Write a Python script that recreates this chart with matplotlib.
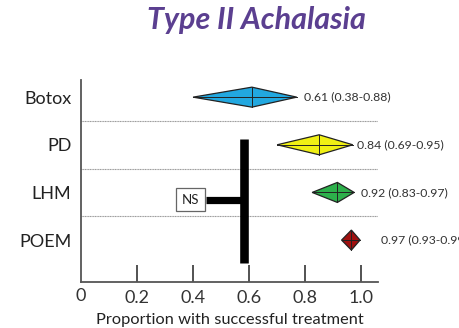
import matplotlib
matplotlib.use("Agg")
import matplotlib.pyplot as plt
from matplotlib.patches import Polygon

plt.rcParams['font.family'] = ['Lato', 'DejaVu Sans']

# ---- data ----
treatments = ["Botox", "PD", "LHM", "POEM"]
estimate = [0.61, 0.85, 0.915, 0.965]
diamond_left = [0.40, 0.70, 0.825, 0.93]
diamond_right = [0.77, 0.97, 0.975, 0.996]
labels = ["0.61 (0.38-0.88)", "0.84 (0.69-0.95)", "0.92 (0.83-0.97)", "0.97 (0.93-0.99)"]
colors = ["#22A8E0", "#F0F014", "#2DB04B", "#A0100F"]
xticks = [0.2, 0.4, 0.6, 0.8, 1.0]
xticklabels = ["0.2", "0.4", "0.6", "0.8", "1.0"]
ns_bar_x = 0.58
ns_label = "NS"

fig = plt.figure(figsize=(4.6, 3.28), dpi=100)
W, H = 460, 328
ax = fig.add_axes([81 / W, 1 - 282 / H, (378 - 81) / W, (282 - 80) / H])
ax.set_xlim(0, 1.06)
ax.set_ylim(0.12, 4.36)

ypos = [4, 3, 2, 1]
hh = 0.21
for y, c, l, r, col in zip(ypos, estimate, diamond_left, diamond_right, colors):
    poly = Polygon([[l, y], [c, y + hh], [r, y], [c, y - hh]], closed=True,
                   facecolor=col, edgecolor="#222222", linewidth=0.9, zorder=3)
    ax.add_patch(poly)
    ax.plot([l, r], [y, y], color="#222222", lw=0.7, zorder=4)
    ax.plot([c, c], [y - hh, y + hh], color="#222222", lw=0.7, zorder=4)

# value labels (positions in data x)
label_x = [0.795, 0.985, 1.0, 1.07]
for y, lx, lab in zip(ypos, label_x, labels):
    ax.text(lx, y, lab, ha="left", va="center", fontsize=8.8, color="#333333",
            clip_on=False)

# separators
for ys in [3.5, 2.5, 1.5]:
    ax.plot([0, 1.06], [ys, ys], color="#999999", lw=0.8, ls=(0, (1, 0.5)), zorder=1)

# NS bracket
ax.plot([ns_bar_x, ns_bar_x], [0.52, 3.12], color="black", lw=6.2, solid_capstyle="butt", zorder=2)
ax.plot([0.445, ns_bar_x], [1.84, 1.84], color="black", lw=5.2, solid_capstyle="butt", zorder=2)
ax.text(0.39, 1.85, ns_label, ha="center", va="center", fontsize=9.5, color="#222222",
        bbox=dict(boxstyle="square,pad=0.42", facecolor="white", edgecolor="#666666", lw=0.9),
        zorder=5)

# axes styling
for s in ["top", "right"]:
    ax.spines[s].set_visible(False)
ax.spines["left"].set_color("#555555")
ax.spines["bottom"].set_color("#555555")
ax.spines["left"].set_linewidth(1.3)
ax.spines["bottom"].set_linewidth(1.3)
ax.set_xticks(xticks)
ax.set_xticklabels(xticklabels, fontsize=13, color="#333333")
ax.tick_params(axis="x", direction="in", length=12, width=1.3, color="#444444", pad=6)
ax.text(0, -0.03, "0", transform=ax.get_xaxis_transform(), ha="center", va="top",
        fontsize=13, color="#333333")
ax.set_yticks(ypos)
ax.set_yticklabels(treatments, fontsize=13, color="#222222")
ax.tick_params(axis="y", length=0, pad=7)
ax.set_xlabel("Proportion with successful treatment", fontsize=11.8, color="#222222", labelpad=5)

fig.text(256 / W, 1 - 20 / H, "Type II Achalasia", ha="center", va="center",
         fontsize=22, fontweight="bold", fontstyle="italic", color="#5B3F90")

fig.savefig("out.png", dpi=100)
